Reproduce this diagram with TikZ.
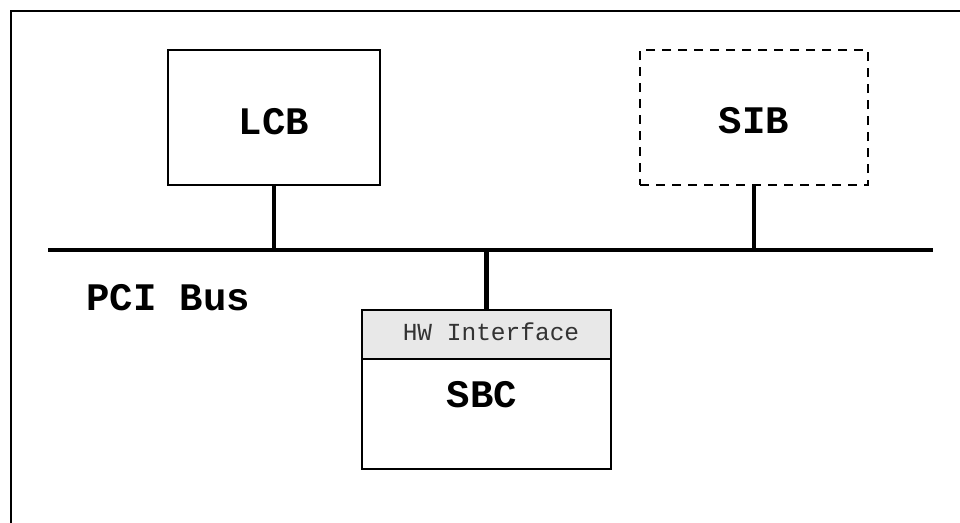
\documentclass[tikz,border=0pt]{standalone}
\usepackage{fontspec}
\setmonofont{Liberation Mono}
\begin{document}
\begin{tikzpicture}[x=1pt,y=-1pt,
  boxstyle/.style={draw=black,line width=1.8pt,rectangle,inner sep=0pt},
  bigtext/.style={font=\ttfamily\bfseries\fontsize{39}{45}\selectfont,inner sep=0pt,anchor=base},
  smalltext/.style={font=\ttfamily\fontsize{24.5}{28}\selectfont,text=black!80,inner sep=0pt,anchor=base},
  busline/.style={line width=4.5pt},
  framestyle/.style={line width=2pt}]
\useasboundingbox (0,0) rectangle (960,522);
\fill[white] (0,0) rectangle (960,522);
% frame
\coordinate (fbl) at (11,523);
\coordinate (ftl) at (11,10.5);
\coordinate (ftr) at (961,10.5);
\draw[framestyle] (fbl) -- (ftl) -- (ftr);
% bus
\coordinate (busL) at (48,250);
\coordinate (busR) at (933,250);
\draw[busline] (busL) -- (busR);
% boxes
\node[boxstyle,minimum width=212pt,minimum height=135pt] (lcb) at (274,117.5) {};
\node[boxstyle,dash pattern=on 9pt off 7pt,minimum width=228pt,minimum height=135pt] (sib) at (754,117.5) {};
\node[boxstyle,minimum width=249pt,minimum height=159pt] (sbc) at (486.5,389.5) {};
\node[boxstyle,fill=black!9,minimum width=249pt,minimum height=49pt,anchor=north] (hw) at (sbc.north) {};
% texts
\node[bigtext] (lcbt) at (274,134.5) {LCB};
\node[bigtext] (sibt) at (754,133.5) {SIB};
\node[bigtext] (sbct) at (482,407) {SBC};
\node[bigtext,anchor=base west] (pci) at (86,310) {PCI Bus};
\node[smalltext] (hwt) at (491,340) {HW Interface};
% connectors
\draw[busline] (lcb.south) -- (lcb.south |- busL);
\draw[busline] (sib.south) -- (sib.south |- busL);
\draw[busline] (hw.north) -- (hw.north |- busL);
\end{tikzpicture}
\end{document}
